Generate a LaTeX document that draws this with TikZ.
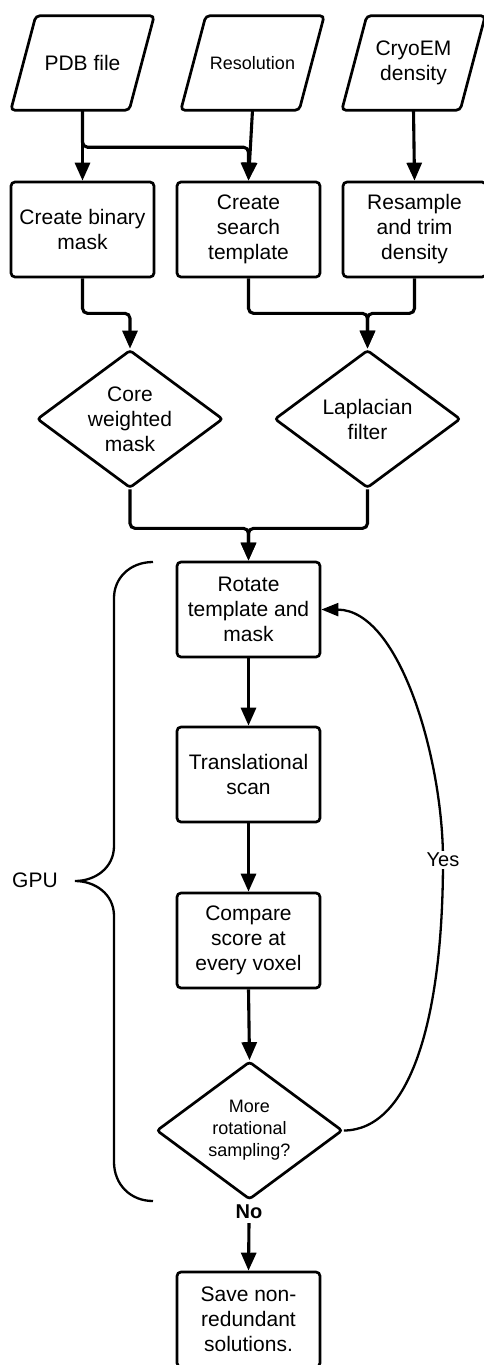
\documentclass[tikz,border=0pt]{standalone}
\usepackage{fontspec}
\setmainfont{Liberation Sans}
\usetikzlibrary{shapes.geometric,arrows.meta}
\begin{document}
\begin{tikzpicture}[x=1pt,y=-1pt,
  every node/.style={font=\fontsize{21}{25}\selectfont, align=center, inner sep=0pt},
  proc/.style={draw, line width=2.7pt, rectangle, rounded corners=4pt, minimum width=143pt, minimum height=95pt},
  io/.style={rectangle, minimum width=118pt, minimum height=94pt},
  dec/.style={draw, line width=2.7pt, diamond, aspect=1.34, minimum width=186pt, minimum height=138pt, rounded corners=3pt},
  smalltext/.style={font=\fontsize{18}{22}\selectfont},
  arr/.style={line width=3.1pt, rounded corners=5pt, -{Triangle[length=18pt,width=15pt]}},
  thin/.style={line width=2.3pt}
]
\useasboundingbox (0,0) rectangle (483,1365);

% input parallelograms
\node[io] (pdb) at (82.5,63) {PDB file};
\node[io, smalltext] (res) at (252.5,63) {Resolution};
\node[io] (cryo) at (413.5,63) {CryoEM\\density};
\foreach \n in {pdb,res,cryo}
  \draw[line width=2.7pt, rounded corners=4pt]
    ([xshift=-12.5pt]\n.south west) -- ([xshift=-12.5pt]\n.south east)
    -- ([xshift=12.5pt]\n.north east) -- ([xshift=12.5pt]\n.north west) -- cycle;

% first row of processes
\node[proc] (binary) at (82.5,229.5) {Create binary\\mask};
\node[proc] (search) at (248.5,229.5) {Create\\search\\template};
\node[proc] (resample) at (414.5,229.5) {Resample\\and trim\\density};

% decisions
\node[dec] (core) at (130,419) {Core\\weighted\\mask};
\node[dec] (lap) at (367.5,419) {Laplacian\\filter};

% loop
\node[proc] (rotate) at (248.5,609.5) {Rotate\\template and\\mask};
\node[proc] (trans) at (248.5,774.5) {Translational\\scan};
\node[proc] (comp) at (248.5,940.5) {Compare\\score at\\every voxel};
\node[dec, smalltext] (more) at (249.5,1130.5) {More\\rotational\\sampling?};
\node[font=\fontsize{20}{24}\selectfont\bfseries] (no) at (249,1212) {No};
\node[proc] (save) at (248.5,1319.5) {Save non-\\redundant\\solutions.};

% connectors
\draw[arr] (pdb.south) -- (binary.north);
\draw[arr] (pdb.south) -- ++(0,37) -| (search.north);
\draw[arr] (res.south) -- (search.north);
\draw[arr] (cryo.south) -- (resample.north);

\draw[arr] (binary.south) -- ++(0,35) -| (core.north);
\draw[arr] (search.south) -- ++(0,35) -| (lap.north);
\draw[arr] (resample.south) -- ++(0,35) -| (lap.north);

\draw[arr] (core.south) -- ++(0,39) -| (rotate.north);
\draw[arr] (lap.south) -- ++(0,39) -| (rotate.north);

\draw[arr] (rotate.south) -- (trans.north);
\draw[arr] (trans.south) -- (comp.north);
\draw[arr] (comp.south) -- (more.north);
\draw[arr] (no.south) ++(0,4) -- (save.north);

% yes loop
\coordinate (ybend) at (443,860);
\draw[thin, -{Triangle[length=17pt,width=13pt]}] (more.east)
  .. controls (410,1130) and (443,1020) .. (ybend)
  .. controls (443,760) and (400,610) .. (rotate.east);
\node[fill=white, inner sep=2pt, font=\fontsize{20}{24}\selectfont] (yes) at (ybend) {Yes};

% GPU brace
\node (gpu) at (35,880) {GPU};
\coordinate (btop) at (153,562);
\coordinate (btip) at (75,881);
\coordinate (bbot) at (153,1201);
\draw[thin] (btop) .. controls (130,562) and (114,578) .. (114,598)
  -- (114,846) .. controls (114,868) and (95,881) .. (btip)
  .. controls (95,881) and (114,894) .. (114,916)
  -- (114,1162) .. controls (114,1184) and (130,1201) .. (bbot);
\end{tikzpicture}
\end{document}
